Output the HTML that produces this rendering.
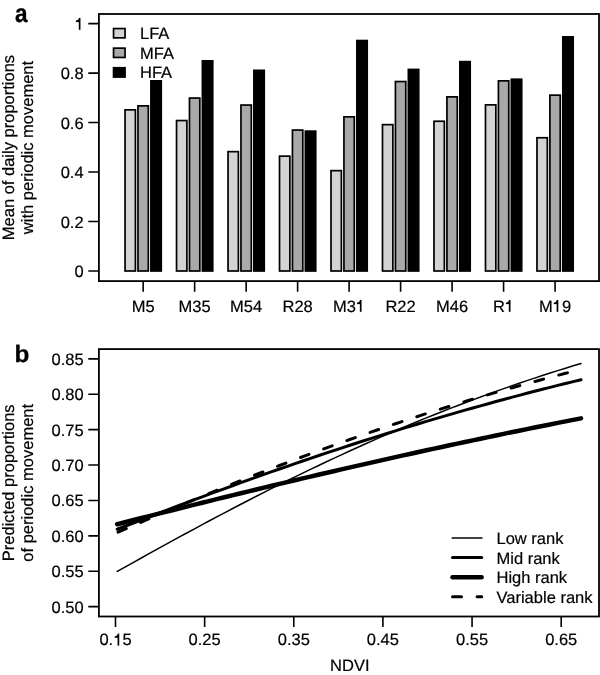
<!DOCTYPE html>
<html><head><meta charset="utf-8"><style>
html,body{margin:0;padding:0;background:#fff;}
body{width:600px;height:675px;overflow:hidden;}
svg{display:block;will-change:transform;text-rendering:geometricPrecision;}
.t{font-family:"Liberation Sans",sans-serif;font-size:16.5px;fill:#000;stroke:#000;stroke-width:0.2px;}
.bold{font-family:"Liberation Sans",sans-serif;font-size:25px;font-weight:bold;fill:#000;stroke:#000;stroke-width:0.3px;}
</style></head><body>
<svg width="600" height="675" viewBox="0 0 600 675">
<rect x="0" y="0" width="600" height="675" fill="#fff"/>
<rect x="125.05" y="109.85" width="10.35" height="161.15" fill="#d3d3d3" stroke="#000" stroke-width="1.7"/>
<rect x="137.98" y="105.85" width="10.35" height="165.15" fill="#a9a9a9" stroke="#000" stroke-width="1.7"/>
<rect x="150.91" y="80.85" width="10.35" height="190.15" fill="#000000" stroke="#000" stroke-width="1.7"/>
<rect x="176.54" y="120.55" width="10.35" height="150.45" fill="#d3d3d3" stroke="#000" stroke-width="1.7"/>
<rect x="189.47" y="98.05" width="10.35" height="172.95" fill="#a9a9a9" stroke="#000" stroke-width="1.7"/>
<rect x="202.4" y="60.85" width="10.35" height="210.15" fill="#000000" stroke="#000" stroke-width="1.7"/>
<rect x="228.03" y="151.65" width="10.35" height="119.35" fill="#d3d3d3" stroke="#000" stroke-width="1.7"/>
<rect x="240.96" y="105.05" width="10.35" height="165.95" fill="#a9a9a9" stroke="#000" stroke-width="1.7"/>
<rect x="253.89" y="70.35" width="10.35" height="200.65" fill="#000000" stroke="#000" stroke-width="1.7"/>
<rect x="279.52" y="156.15" width="10.35" height="114.85" fill="#d3d3d3" stroke="#000" stroke-width="1.7"/>
<rect x="292.45" y="130.05" width="10.35" height="140.95" fill="#a9a9a9" stroke="#000" stroke-width="1.7"/>
<rect x="305.38" y="131.15" width="10.35" height="139.85" fill="#000000" stroke="#000" stroke-width="1.7"/>
<rect x="331.01" y="170.65" width="10.35" height="100.35" fill="#d3d3d3" stroke="#000" stroke-width="1.7"/>
<rect x="343.94" y="116.85" width="10.35" height="154.15" fill="#a9a9a9" stroke="#000" stroke-width="1.7"/>
<rect x="356.87" y="40.55" width="10.35" height="230.45" fill="#000000" stroke="#000" stroke-width="1.7"/>
<rect x="382.5" y="124.65" width="10.35" height="146.35" fill="#d3d3d3" stroke="#000" stroke-width="1.7"/>
<rect x="395.43" y="81.55" width="10.35" height="189.45" fill="#a9a9a9" stroke="#000" stroke-width="1.7"/>
<rect x="408.36" y="69.45" width="10.35" height="201.55" fill="#000000" stroke="#000" stroke-width="1.7"/>
<rect x="433.99" y="121.25" width="10.35" height="149.75" fill="#d3d3d3" stroke="#000" stroke-width="1.7"/>
<rect x="446.92" y="96.85" width="10.35" height="174.15" fill="#a9a9a9" stroke="#000" stroke-width="1.7"/>
<rect x="459.85" y="61.65" width="10.35" height="209.35" fill="#000000" stroke="#000" stroke-width="1.7"/>
<rect x="485.48" y="104.85" width="10.35" height="166.15" fill="#d3d3d3" stroke="#000" stroke-width="1.7"/>
<rect x="498.41" y="80.85" width="10.35" height="190.15" fill="#a9a9a9" stroke="#000" stroke-width="1.7"/>
<rect x="511.34" y="79.25" width="10.35" height="191.75" fill="#000000" stroke="#000" stroke-width="1.7"/>
<rect x="536.97" y="137.75" width="10.35" height="133.25" fill="#d3d3d3" stroke="#000" stroke-width="1.7"/>
<rect x="549.9" y="95.15" width="10.35" height="175.85" fill="#a9a9a9" stroke="#000" stroke-width="1.7"/>
<rect x="562.83" y="36.85" width="10.35" height="234.15" fill="#000000" stroke="#000" stroke-width="1.7"/>
<rect x="98.9" y="14" width="500.1" height="267.1" fill="none" stroke="#000" stroke-width="1.8"/>
<text x="83.6" y="277.05" text-anchor="end" class="t">0</text>
<text x="83.6" y="227.57" text-anchor="end" class="t">0.2</text>
<text x="83.6" y="178.09" text-anchor="end" class="t">0.4</text>
<text x="83.6" y="128.61" text-anchor="end" class="t">0.6</text>
<text x="83.6" y="79.13" text-anchor="end" class="t">0.8</text>
<text x="74.42" y="29.65" class="t"><tspan style="fill:none;stroke:none">1</tspan></text><path transform="translate(74.42 29.65) scale(0.0165 -0.0165)" d="M271 0L271 467L95 467L95 550C180 553 255 590 280 709L360 709L360 0Z" fill="#000" stroke="#000" stroke-width="12.12"/>
<text x="143.16" y="311.8" text-anchor="middle" class="t">M5</text>
<text x="194.65" y="311.8" text-anchor="middle" class="t">M35</text>
<text x="246.14" y="311.8" text-anchor="middle" class="t">M54</text>
<text x="297.62" y="311.8" text-anchor="middle" class="t">R28</text>
<text x="333.07" y="311.8" class="t">M3<tspan style="fill:none;stroke:none">1</tspan></text><path transform="translate(355.49 311.8) scale(0.0165 -0.0165)" d="M271 0L271 467L95 467L95 550C180 553 255 590 280 709L360 709L360 0Z" fill="#000" stroke="#000" stroke-width="12.12"/>
<text x="400.6" y="311.8" text-anchor="middle" class="t">R22</text>
<text x="452.09" y="311.8" text-anchor="middle" class="t">M46</text>
<text x="493.04" y="311.8" class="t">R<tspan style="fill:none;stroke:none">1</tspan></text><path transform="translate(504.45 311.8) scale(0.0165 -0.0165)" d="M271 0L271 467L95 467L95 550C180 553 255 590 280 709L360 709L360 0Z" fill="#000" stroke="#000" stroke-width="12.12"/>
<text x="539.03" y="311.8" class="t">M<tspan style="fill:none;stroke:none">1</tspan>9</text><path transform="translate(552.27 311.8) scale(0.0165 -0.0165)" d="M271 0L271 467L95 467L95 550C180 553 255 590 280 709L360 709L360 0Z" fill="#000" stroke="#000" stroke-width="12.12"/>
<path d="M88.3 271H98.9 M88.3 221.52H98.9 M88.3 172.04H98.9 M88.3 122.56H98.9 M88.3 73.08H98.9 M88.3 23.6H98.9 M143.16 281.1V291.7 M194.65 281.1V291.7 M246.14 281.1V291.7 M297.62 281.1V291.7 M349.12 281.1V291.7 M400.6 281.1V291.7 M452.09 281.1V291.7 M503.58 281.1V291.7 M555.07 281.1V291.7" stroke="#000" stroke-width="1.6" fill="none"/>
<rect x="113.55" y="28.55" width="11.5" height="9.3" fill="#d3d3d3" stroke="#000" stroke-width="1.7"/>
<text x="140" y="39.2" class="t">LFA</text>
<rect x="113.55" y="48.15" width="11.5" height="9.3" fill="#a9a9a9" stroke="#000" stroke-width="1.7"/>
<text x="140" y="58.7" class="t">MFA</text>
<rect x="113.55" y="67.75" width="11.5" height="9.3" fill="#000000" stroke="#000" stroke-width="1.7"/>
<text x="140" y="78.2" class="t">HFA</text>
<text transform="translate(14.3 147.55) rotate(-90)" text-anchor="middle" class="t">Mean of daily proportions</text>
<text transform="translate(33.0 147.55) rotate(-90)" text-anchor="middle" class="t">with periodic movement</text>
<text transform="translate(14.9 21.6) scale(0.9 1.02)" class="bold">a</text>
<rect x="98.9" y="349.1" width="500.1" height="267.4" fill="none" stroke="#000" stroke-width="1.8"/>
<text x="83.6" y="612.65" text-anchor="end" class="t">0.50</text>
<text x="83.6" y="577.26" text-anchor="end" class="t">0.55</text>
<text x="83.6" y="541.88" text-anchor="end" class="t">0.60</text>
<text x="83.6" y="506.49" text-anchor="end" class="t">0.65</text>
<text x="83.6" y="471.11" text-anchor="end" class="t">0.70</text>
<text x="83.6" y="435.72" text-anchor="end" class="t">0.75</text>
<text x="83.6" y="400.34" text-anchor="end" class="t">0.80</text>
<text x="83.6" y="364.95" text-anchor="end" class="t">0.85</text>
<text x="99.44" y="645.4" class="t">0.<tspan style="fill:none;stroke:none">1</tspan>5</text><path transform="translate(113.2 645.4) scale(0.0165 -0.0165)" d="M271 0L271 467L95 467L95 550C180 553 255 590 280 709L360 709L360 0Z" fill="#000" stroke="#000" stroke-width="12.12"/>
<text x="204.64" y="645.4" text-anchor="middle" class="t">0.25</text>
<text x="293.78" y="645.4" text-anchor="middle" class="t">0.35</text>
<text x="382.92" y="645.4" text-anchor="middle" class="t">0.45</text>
<text x="472.06" y="645.4" text-anchor="middle" class="t">0.55</text>
<text x="561.2" y="645.4" text-anchor="middle" class="t">0.65</text>
<path d="M88.3 606.6H98.9 M88.3 571.21H98.9 M88.3 535.83H98.9 M88.3 500.44H98.9 M88.3 465.06H98.9 M88.3 429.67H98.9 M88.3 394.29H98.9 M88.3 358.9H98.9 M115.5 616.5V627.1 M204.64 616.5V627.1 M293.78 616.5V627.1 M382.92 616.5V627.1 M472.06 616.5V627.1 M561.2 616.5V627.1" stroke="#000" stroke-width="1.6" fill="none"/>
<text x="349.8" y="671" text-anchor="middle" class="t">NDVI</text>
<text transform="translate(14.2 482.8) rotate(-90)" text-anchor="middle" class="t">Predicted proportions</text>
<text transform="translate(33.0 482.8) rotate(-90)" text-anchor="middle" class="t">of periodic movement</text>
<text transform="translate(14.4 361.5) scale(0.97 0.955)" class="bold">b</text>
<path d="M117.2,571.43 L124.93,567.1 L132.66,562.78 L140.39,558.47 L148.12,554.18 L155.85,549.91 L163.58,545.65 L171.31,541.41 L179.04,537.19 L186.77,532.99 L194.5,528.81 L202.23,524.65 L209.96,520.52 L217.69,516.41 L225.42,512.33 L233.15,508.28 L240.88,504.25 L248.61,500.25 L256.34,496.28 L264.07,492.35 L271.8,488.44 L279.53,484.56 L287.26,480.72 L294.99,476.91 L302.72,473.14 L310.45,469.4 L318.18,465.7 L325.91,462.03 L333.64,458.4 L341.37,454.81 L349.1,451.26 L356.83,447.74 L364.56,444.26 L372.29,440.83 L380.02,437.43 L387.75,434.07 L395.48,430.75 L403.21,427.47 L410.94,424.24 L418.67,421.04 L426.4,417.89 L434.13,414.78 L441.86,411.7 L449.59,408.67 L457.32,405.69 L465.05,402.74 L472.78,399.83 L480.51,396.97 L488.24,394.15 L495.97,391.37 L503.7,388.63 L511.43,385.93 L519.16,383.28 L526.89,380.66 L534.62,378.09 L542.35,375.56 L550.08,373.07 L557.81,370.62 L565.54,368.2 L573.27,365.83 L581,363.5" fill="none" stroke="#000" stroke-width="1.5" stroke-linecap="round"/>
<path d="M117.2,529.25 L124.93,526.23 L132.66,523.23 L140.39,520.24 L148.12,517.26 L155.85,514.3 L163.58,511.35 L171.31,508.41 L179.04,505.49 L186.77,502.58 L194.5,499.69 L202.23,496.82 L209.96,493.96 L217.69,491.11 L225.42,488.29 L233.15,485.48 L240.88,482.68 L248.61,479.91 L256.34,477.15 L264.07,474.41 L271.8,471.69 L279.53,468.99 L287.26,466.3 L294.99,463.64 L302.72,460.99 L310.45,458.37 L318.18,455.76 L325.91,453.17 L333.64,450.61 L341.37,448.06 L349.1,445.54 L356.83,443.03 L364.56,440.55 L372.29,438.08 L380.02,435.64 L387.75,433.22 L395.48,430.82 L403.21,428.44 L410.94,426.08 L418.67,423.74 L426.4,421.43 L434.13,419.13 L441.86,416.86 L449.59,414.61 L457.32,412.39 L465.05,410.18 L472.78,407.99 L480.51,405.83 L488.24,403.69 L495.97,401.57 L503.7,399.48 L511.43,397.4 L519.16,395.35 L526.89,393.32 L534.62,391.31 L542.35,389.32 L550.08,387.35 L557.81,385.41 L565.54,383.49 L573.27,381.59 L581,379.71" fill="none" stroke="#000" stroke-width="3" stroke-linecap="round"/>
<path d="M117.2,524.22 L124.93,522.24 L132.66,520.26 L140.39,518.29 L148.12,516.33 L155.85,514.37 L163.58,512.42 L171.31,510.47 L179.04,508.53 L186.77,506.6 L194.5,504.67 L202.23,502.75 L209.96,500.83 L217.69,498.93 L225.42,497.03 L233.15,495.13 L240.88,493.25 L248.61,491.37 L256.34,489.49 L264.07,487.63 L271.8,485.77 L279.53,483.92 L287.26,482.08 L294.99,480.25 L302.72,478.42 L310.45,476.6 L318.18,474.79 L325.91,472.99 L333.64,471.19 L341.37,469.4 L349.1,467.63 L356.83,465.85 L364.56,464.09 L372.29,462.34 L380.02,460.59 L387.75,458.86 L395.48,457.13 L403.21,455.41 L410.94,453.7 L418.67,452 L426.4,450.3 L434.13,448.62 L441.86,446.94 L449.59,445.28 L457.32,443.62 L465.05,441.97 L472.78,440.33 L480.51,438.7 L488.24,437.08 L495.97,435.47 L503.7,433.86 L511.43,432.27 L519.16,430.69 L526.89,429.11 L534.62,427.54 L542.35,425.99 L550.08,424.44 L557.81,422.9 L565.54,421.38 L573.27,419.86 L581,418.35" fill="none" stroke="#000" stroke-width="4.5" stroke-linecap="round"/>
<path d="M117.2,532.5 L124.93,529.13 L132.66,525.78 L140.39,522.44 L148.12,519.11 L155.85,515.8 L163.58,512.51 L171.31,509.24 L179.04,505.98 L186.77,502.75 L194.5,499.53 L202.23,496.33 L209.96,493.15 L217.69,489.99 L225.42,486.85 L233.15,483.73 L240.88,480.64 L248.61,477.57 L256.34,474.51 L264.07,471.49 L271.8,468.48 L279.53,465.5 L287.26,462.54 L294.99,459.6 L302.72,456.69 L310.45,453.81 L318.18,450.95 L325.91,448.11 L333.64,445.3 L341.37,442.51 L349.1,439.75 L356.83,437.02 L364.56,434.31 L372.29,431.63 L380.02,428.97 L387.75,426.35 L395.48,423.74 L403.21,421.17 L410.94,418.62 L418.67,416.1 L426.4,413.6 L434.13,411.13 L441.86,408.69 L449.59,406.28 L457.32,403.89 L465.05,401.53 L472.78,399.2 L480.51,396.9 L488.24,394.62 L495.97,392.37 L503.7,390.14 L511.43,387.95 L519.16,385.78 L526.89,383.63 L534.62,381.52 L542.35,379.43 L550.08,377.36 L557.81,375.33 L565.54,373.32 L573.27,371.33 L581,369.37" fill="none" stroke="#000" stroke-width="3" stroke-linecap="round" stroke-dasharray="9 15.65" stroke-dashoffset="-0.9"/>
<path d="M451.7 538H482.5" stroke="#000" stroke-width="1.5"/>
<path d="M452.5 557.5H481.7" stroke="#000" stroke-width="3" stroke-linecap="round"/>
<path d="M452.5 577.2H481.6" stroke="#000" stroke-width="4.5" stroke-linecap="round"/>
<path d="M452.5 596.8H481.7" stroke="#000" stroke-width="3" stroke-linecap="round" stroke-dasharray="9 15.6"/>
<text x="496.5" y="544" class="t">Low rank</text>
<text x="496.5" y="563.6" class="t">Mid rank</text>
<text x="496.5" y="583.2" class="t">High rank</text>
<text x="496.5" y="602.8" class="t">Variable rank</text>
</svg>
</body></html>
